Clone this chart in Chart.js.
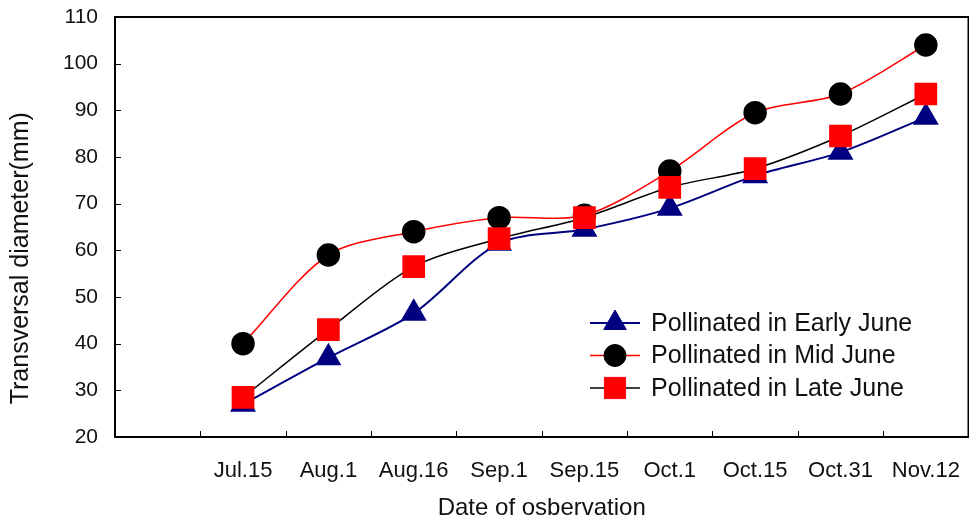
<!DOCTYPE html>
<html>
<head>
<meta charset="utf-8">
<script src="https://cdn.jsdelivr.net/npm/chart.js@4"></script>
<style>
  html, body { margin: 0; padding: 0; background: #fff; }
  #wrap { width: 969px; height: 523px; overflow: hidden; }
</style>
</head>
<body>
<div id="wrap"><canvas id="fruitChart" width="985" height="523"></canvas></div>
<script>
// observation dates (first slot is left empty like the original axis)
const dates = ['', 'Jul.15', 'Aug.1', 'Aug.16', 'Sep.1', 'Sep.15', 'Oct.1', 'Oct.15', 'Oct.31', 'Nov.12'];

// transversal diameter (mm)
const earlyJune = [null, 27, 37, 46.5, 61.5, 64.5, 69, 76, 81, 88.5];
const midJune   = [null, 40, 59, 64, 67, 67.5, 77, 89.5, 93.5, 104];
const lateJune  = [null, 28.5, 43, 56.5, 62.5, 67, 73.5, 77.5, 84.5, 93.5];

const seriesNames = ['Pollinated in Early June', 'Pollinated in Mid June', 'Pollinated in Late June'];

const FONT = '"Liberation Sans", Arial, sans-serif';

// short inward tick marks + box border, Excel style
const frame = {
    id: 'frame',
    afterDraw(chart) {
        const ctx = chart.ctx;
        const a = chart.chartArea;
        const xs = chart.scales.x, ys = chart.scales.y;
        ctx.save();
        ctx.strokeStyle = '#000';
        ctx.lineWidth = 1;
        ctx.beginPath();
        for (let i = 1; i < xs.ticks.length; i++) {
            const px = Math.round((xs.getPixelForTick(i) + xs.getPixelForTick(i - 1)) / 2) + 0.5;
            ctx.moveTo(px, a.bottom);
            ctx.lineTo(px, a.bottom - 6);
        }
        ys.ticks.forEach((t, i) => {
            const py = Math.round(ys.getPixelForTick(i)) + 0.5;
            ctx.moveTo(a.left, py);
            ctx.lineTo(a.left + 6, py);
        });
        ctx.stroke();
        ctx.lineWidth = 2;
        ctx.strokeRect(a.left, a.top, a.right - a.left, a.bottom - a.top);
        ctx.restore();
    }
};

// legend drawn inside the plot: line through marker
const insideLegend = {
    id: 'insideLegend',
    afterDraw(chart) {
        const ctx = chart.ctx;
        const x0 = 590, y0 = 323, gap = 32.5;
        ctx.save();
        chart.data.datasets.forEach((ds, i) => {
            const y = y0 + i * gap;
            ctx.strokeStyle = ds.borderColor;
            ctx.lineWidth = ds.borderWidth;
            ctx.beginPath();
            ctx.moveTo(x0, y);
            ctx.lineTo(x0 + 50, y);
            ctx.stroke();
            ctx.fillStyle = ds.pointBackgroundColor;
            ctx.strokeStyle = ds.pointBackgroundColor;
            ctx.lineWidth = 1;
            Chart.helpers.drawPoint(ctx, { pointStyle: ds.pointStyle, radius: ds.pointRadius, rotation: 0, borderWidth: 1 }, x0 + 25, y);
            ctx.fillStyle = '#111';
            ctx.font = '25px ' + FONT;
            ctx.textBaseline = 'middle';
            ctx.fillText(ds.label, x0 + 61, y + 1);
        });
        ctx.restore();
    }
};

new Chart(document.getElementById('fruitChart'), {
    type: 'line',
    data: {
        labels: dates,
        datasets: [
            {
                label: seriesNames[0],
                data: earlyJune,
                borderColor: '#000080',
                borderWidth: 2,
                pointStyle: 'triangle',
                pointRadius: 13,
                pointBackgroundColor: '#000080',
                pointBorderColor: '#000080',
                tension: 0.3,
                order: 2
            },
            {
                label: seriesNames[1],
                data: midJune,
                borderColor: '#ff0000',
                borderWidth: 1.5,
                pointStyle: 'circle',
                pointRadius: 11,
                pointBackgroundColor: '#000000',
                pointBorderColor: '#000000',
                tension: 0.3,
                order: 1
            },
            {
                label: seriesNames[2],
                data: lateJune,
                borderColor: '#000000',
                borderWidth: 1.5,
                pointStyle: 'rect',
                pointRadius: 15,
                pointBackgroundColor: '#ff0000',
                pointBorderColor: '#ff0000',
                tension: 0.3,
                order: 0
            }
        ]
    },
    options: {
        responsive: false,
        animation: false,
        layout: { padding: { top: 17, right: 0, left: 0, bottom: 0 } },
        plugins: {
            legend: { display: false },
            tooltip: { enabled: false }
        },
        scales: {
            x: {
                offset: true,
                grid: { display: false, drawTicks: false },
                border: { display: false },
                ticks: { color: '#111', font: { family: FONT, size: 22 }, padding: 21, maxRotation: 0, autoSkip: false },
                title: { display: true, text: 'Date of osbervation', color: '#111', font: { family: FONT, size: 24 }, padding: { top: 12, bottom: 0 } },
                afterFit(scale) {
                    scale.height = 86;
                    scale.paddingLeft = 0;
                    scale.paddingRight = 0;
                }
            },
            y: {
                min: 20,
                max: 110,
                ticks: { stepSize: 10, color: '#111', font: { family: FONT, size: 21 }, padding: 17 },
                grid: { display: false, drawTicks: false },
                border: { display: false },
                title: { display: true, text: 'Transversal diameter(mm)         ', color: '#111', font: { family: FONT, size: 25 }, padding: { top: 6, bottom: 6 } },
                afterFit(scale) {
                    scale.width = 115;
                    scale.paddingTop = 0;
                    scale.paddingBottom = 0;
                }
            }
        }
    },
    plugins: [frame, insideLegend]
});
</script>
</body>
</html>
